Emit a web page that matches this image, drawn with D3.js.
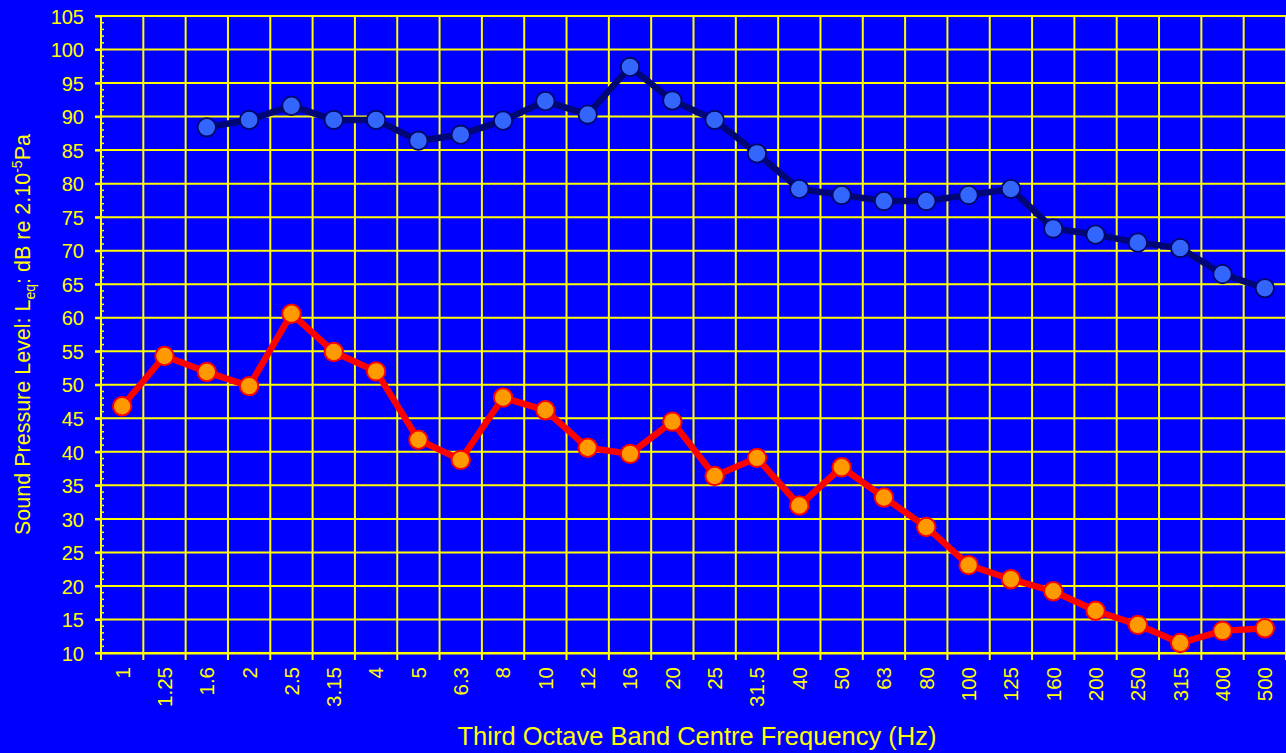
<!DOCTYPE html>
<html>
<head>
<meta charset="utf-8">
<script src="https://cdn.jsdelivr.net/npm/d3@7/dist/d3.min.js"></script>
<style>
  html, body { margin: 0; padding: 0; background: #0000FF; }
  svg { display: block; }
  text { font-family: "Liberation Sans", Arial, sans-serif; fill: #FFFF00; }
</style>
</head>
<body>
<svg id="chart" width="1286" height="753"></svg>
<script>
const categories = ["1","1.25","1.6","2","2.5","3.15","4","5","6.3","8","10","12","16","20","25","31.5","40","50","63","80","100","125","160","200","250","315","400","500"];
// Upper series (blue markers) – starts at 1.6 Hz
const upperValues = [null,null,88.4,89.5,91.6,89.5,89.5,86.4,87.3,89.4,92.3,90.3,97.4,92.4,89.5,84.5,79.2,78.3,77.4,77.4,78.3,79.2,73.3,72.4,71.2,70.4,66.5,64.4];
// Lower series (orange markers)
const lowerValues = [46.8,54.3,51.9,49.8,60.6,54.9,52.0,41.8,38.8,48.1,46.2,40.6,39.7,44.5,36.4,39.1,32.0,37.7,33.2,28.8,23.1,21.0,19.2,16.3,14.2,11.5,13.3,13.7];
const yTicks = [10,15,20,25,30,35,40,45,50,55,60,65,70,75,80,85,90,95,100,105];
const yMinorTicks = d3.range(10, 106, 1);

(function () {
const svg = d3.select("#chart");
const mLeft = 101, mRight = 1286, mTop = 16, mBottom = 653;

svg.append("rect").attr("width", 1286).attr("height", 753).attr("fill", "#0000FF");

const x = d3.scaleBand().domain(categories).range([mLeft, mRight]).padding(0);
const y = d3.scaleLinear().domain([10, 105]).range([mBottom, mTop]);
const cx = c => x(c) + x.bandwidth() / 2;

const grid = svg.append("g");
grid.selectAll("line.h").data(yTicks).join("line")
  .attr("x1", mLeft - 6).attr("x2", mRight)
  .attr("y1", d => y(d)).attr("y2", d => y(d))
  .attr("stroke", "#FFFF00").attr("stroke-width", 2);
const bounds = categories.map(c => x(c)).concat([mRight]);
grid.selectAll("line.v").data(bounds).join("line")
  .attr("x1", d => d).attr("x2", d => d)
  .attr("y1", mTop).attr("y2", mBottom + 7)
  .attr("stroke", "#FFFF00").attr("stroke-width", 2);
grid.selectAll("line.m").data(yMinorTicks).join("line")
  .attr("x1", mLeft).attr("x2", mLeft + 3)
  .attr("y1", d => y(d)).attr("y2", d => y(d))
  .attr("stroke", "#FFFF00").attr("stroke-width", 1.5);

const yAxis = svg.append("g").attr("transform", `translate(${mLeft},0)`)
  .call(d3.axisLeft(y).tickValues(yTicks).tickSize(6).tickPadding(11));
yAxis.select(".domain").attr("stroke", "#FFFF00").attr("stroke-width", 2).attr("d", `M0,${mTop}V${mBottom}`);
yAxis.selectAll(".tick line").attr("stroke", "#FFFF00").attr("stroke-width", 2);
yAxis.selectAll(".tick text").attr("fill", "#FFFF00").style("font-size", "20px")
  .style("font-family", '"Liberation Sans", Arial, sans-serif').attr("dy", "0.36em");

const xAxis = svg.append("g").attr("transform", `translate(0,${mBottom})`)
  .call(d3.axisBottom(x).tickSize(0).tickPadding(0));
xAxis.select(".domain").attr("stroke", "#FFFF00").attr("stroke-width", 2);
xAxis.selectAll(".tick text")
  .attr("fill", "#FFFF00").style("font-size", "20.5px")
  .style("font-family", '"Liberation Sans", Arial, sans-serif')
  .attr("text-anchor", "end")
  .attr("transform", "translate(0,14) rotate(-90)")
  .attr("x", 0).attr("y", 0).attr("dy", "0.36em");

const lineGen = d3.line().defined(d => d.v != null).x(d => cx(d.c)).y(d => y(d.v));
const upper = categories.map((c, i) => ({c, v: upperValues[i]}));
const lower = categories.map((c, i) => ({c, v: lowerValues[i]}));

svg.append("path").datum(upper).attr("d", lineGen)
  .attr("fill", "none").attr("stroke", "#000675").attr("stroke-width", 6.5).attr("stroke-linejoin", "round");
svg.selectAll("circle.u").data(upper.filter(d => d.v != null)).join("circle")
  .attr("cx", d => cx(d.c)).attr("cy", d => y(d.v)).attr("r", 9.2)
  .attr("fill", "#3366FF").attr("stroke", "#000866").attr("stroke-width", 1.8);

svg.append("path").datum(lower).attr("d", lineGen)
  .attr("fill", "none").attr("stroke", "#FF0000").attr("stroke-width", 6.5).attr("stroke-linejoin", "round");
svg.selectAll("circle.l").data(lower).join("circle")
  .attr("cx", d => cx(d.c)).attr("cy", d => y(d.v)).attr("r", 9.2)
  .attr("fill", "#FF9900").attr("stroke", "#FF0000").attr("stroke-width", 2);

svg.append("text").attr("x", 697).attr("y", 745).attr("text-anchor", "middle")
  .style("font-size", "25.5px").text("Third Octave Band Centre Frequency (Hz)");

const yt = svg.append("text").attr("text-anchor", "middle")
  .attr("transform", `translate(30,${(mTop + mBottom) / 2}) rotate(-90)`)
  .style("font-size", "21.5px");
yt.append("tspan").text("Sound Pressure Level: L");
yt.append("tspan").text("eq").style("font-size", "14px").attr("dy", "5");
yt.append("tspan").text(": dB re 2.10").attr("dy", "-5");
yt.append("tspan").text("-5").style("font-size", "14px").attr("dy", "-8");
yt.append("tspan").text("Pa").attr("dy", "8");
})();
</script>
</body>
</html>
